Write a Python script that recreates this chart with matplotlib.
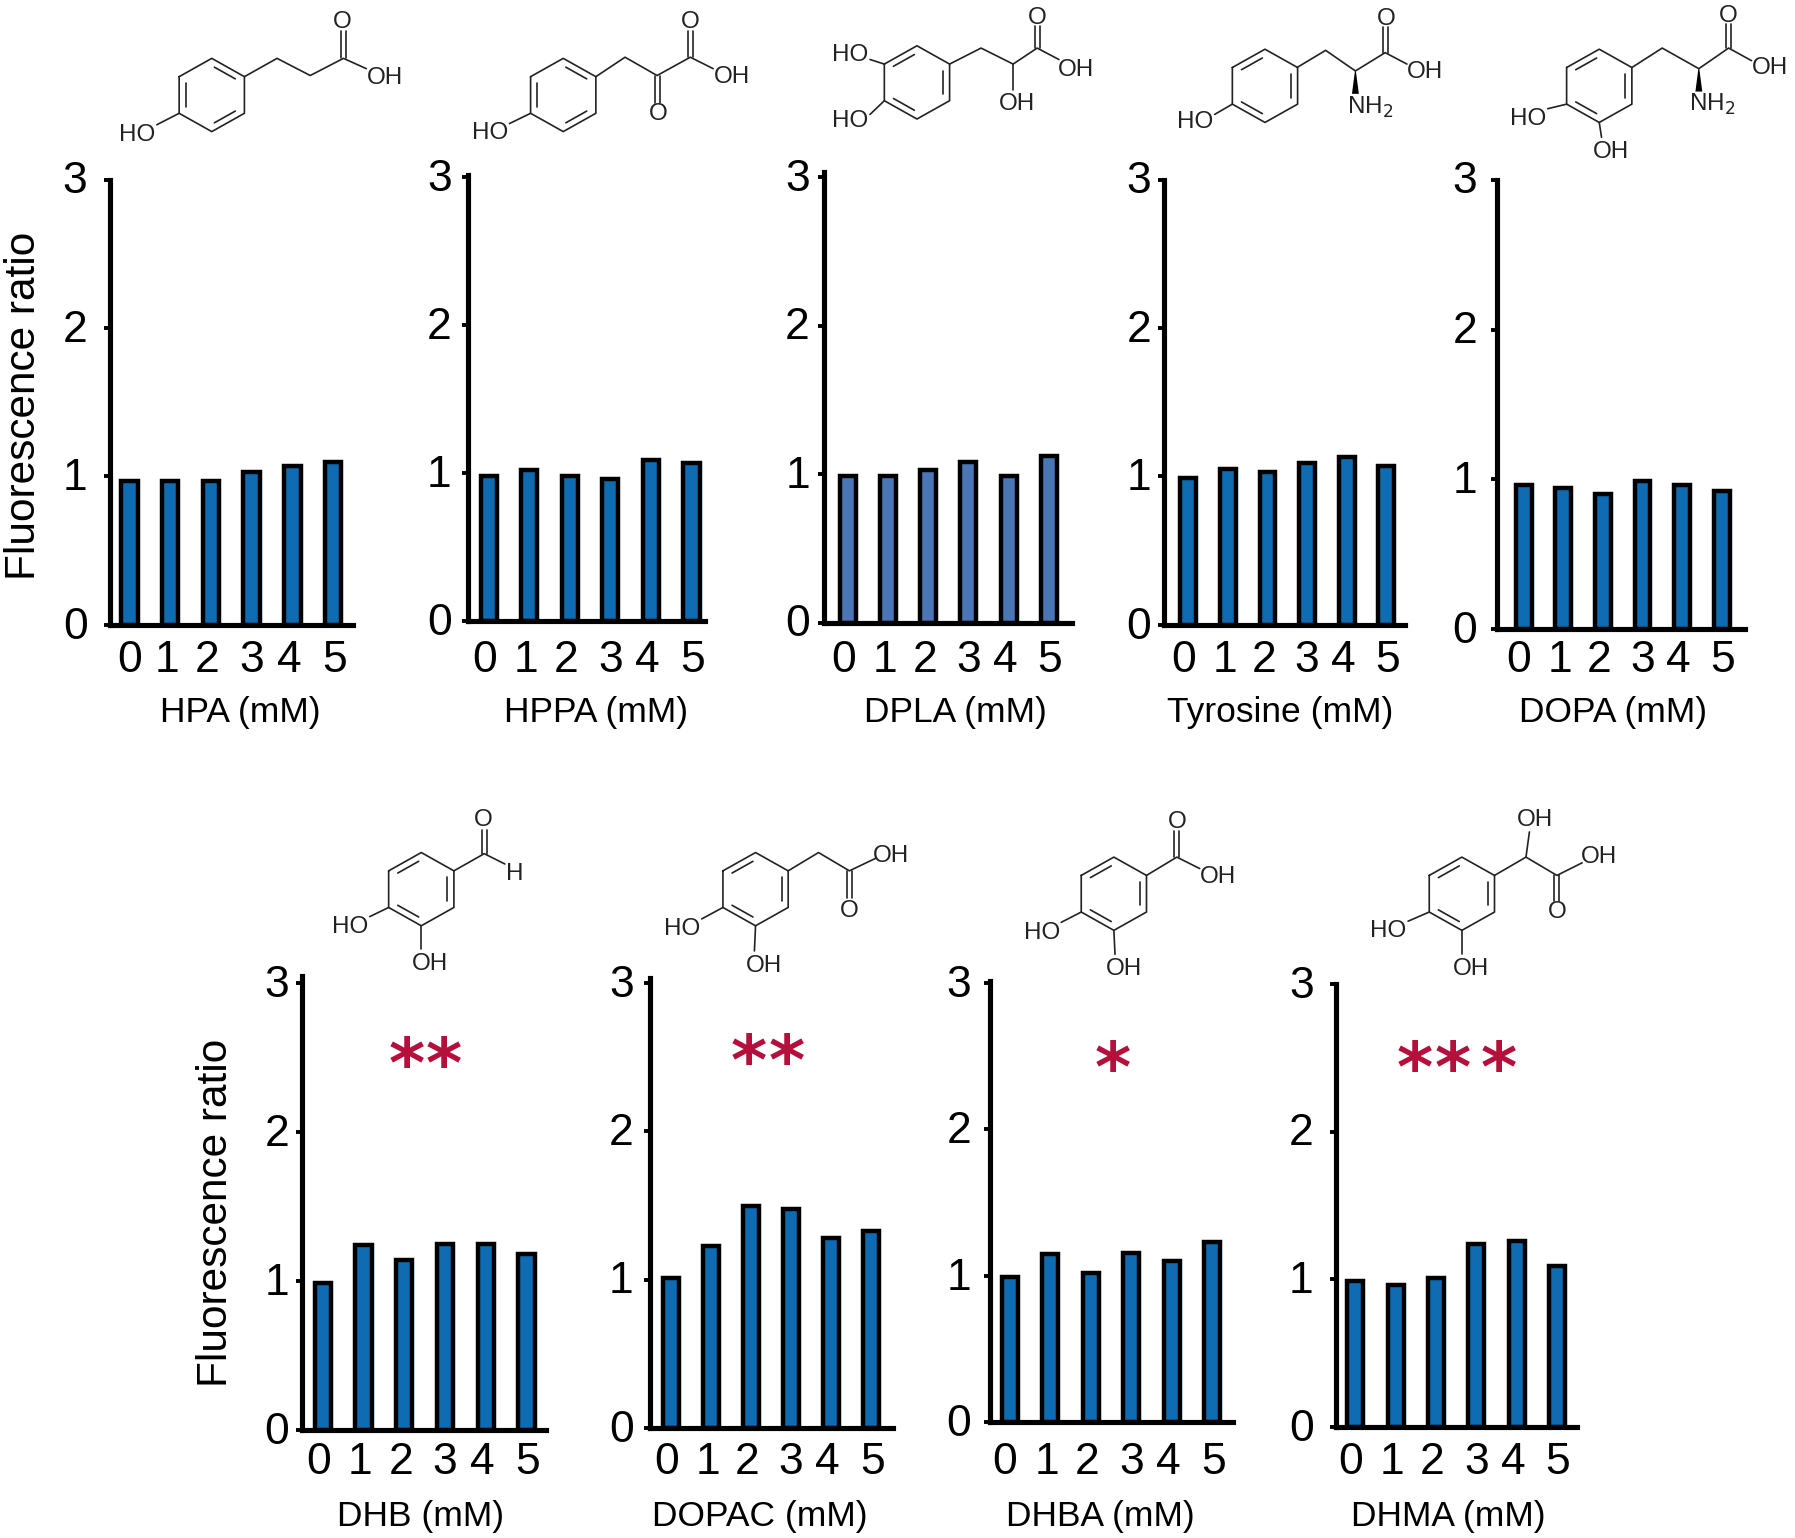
import numpy as np
import matplotlib
matplotlib.use("Agg")
import matplotlib.pyplot as plt
from matplotlib.transforms import ScaledTranslation

plt.rcParams['font.family'] = ['Liberation Sans', 'DejaVu Sans']

# values
doses = [0, 1, 2, 3, 4, 5]
hpa = [0.97, 0.97, 0.97, 1.03, 1.07, 1.10]
hppa = [0.98, 1.02, 0.98, 0.96, 1.09, 1.07]
dpla = [0.99, 0.99, 1.03, 1.08, 0.99, 1.12]
tyrosine = [0.99, 1.05, 1.03, 1.09, 1.13, 1.07]
dopa = [0.96, 0.94, 0.90, 0.99, 0.96, 0.92]
dhb = [0.99, 1.24, 1.14, 1.25, 1.25, 1.18]
dopac = [1.01, 1.23, 1.50, 1.48, 1.28, 1.33]
dhba = [0.99, 1.15, 1.02, 1.16, 1.10, 1.23]
dhma = [0.99, 0.96, 1.01, 1.24, 1.26, 1.09]

S = 1795 / 1568  # layout numbers below are in the 1568 wide picture
W, H = 1568, 1344
BLUE = '#0f6cb3'
RED = '#b5103c'

# name, values, left, tick 3, spine top, bottom, right, first bar, last bar, label gap, label y, xlabel x, colour
panels = [
    ('HPA (mM)', hpa, 96, 157, 157, 546, 308, 113, 291, 30, 573, 210, BLUE),
    ('HPPA (mM)', hppa, 409, 155, 153, 543, 616, 427, 604, 25, 573, 521, BLUE),
    ('DPLA (mM)', dpla, 720, 155, 150, 544, 936, 741, 916, 23, 573, 835, '#4a76b8'),
    ('Tyrosine (mM)', tyrosine, 1017, 157, 157, 546, 1227, 1038, 1211, 22, 573, 1118, BLUE),
    ('DOPA (mM)', dopa, 1308, 157, 157, 550, 1524, 1331, 1504, 28, 573, 1409, BLUE),
    ('DHB (mM)', dhb, 264, 859, 853, 1250, 477, 282, 460, 22, 1274, 367, BLUE),
    ('DOPAC (mM)', dopac, 568, 859, 855, 1248, 780, 586, 761, 25, 1274, 664, BLUE),
    ('DHBA (mM)', dhba, 865, 859, 857, 1243, 1077, 882, 1059, 27, 1274, 961, BLUE),
    ('DHMA (mM)', dhma, 1167, 860, 860, 1247, 1378, 1184, 1360, 30, 1274, 1265, BLUE),
]
label_shift = [-4, -3, -3, 0, -3, 1]

fig = plt.figure(figsize=(17.95, 15.38), dpi=100)

for name, vals, left, top, spine_top, bottom, right, b0, b5, gap, ly, lx, col in panels:
    ax = fig.add_axes([left / W, 1 - bottom / H, (right - left) / W, (bottom - top) / H])
    step = (b5 - b0) / 5
    ax.bar(doses, vals, width=0.40, color=col, edgecolor='black', linewidth=3.2)
    ax.set_xlim(-(b0 - left) / step, 5 + (right - b5) / step)
    ax.set_ylim(0, 3)
    ax.set_yticks([0, 1, 2, 3])
    ax.set_xticks(doses)
    ax.spines['top'].set_visible(False)
    ax.spines['right'].set_visible(False)
    ax.spines['left'].set_linewidth(3.7)
    ax.spines['bottom'].set_linewidth(3.7)
    ax.spines['left'].set_bounds(0, 3 * (bottom - spine_top) / (bottom - top))
    ax.tick_params(axis='y', length=4, width=2.8, labelsize=32, pad=(gap - 19) * S * 0.72 + 3)
    ax.tick_params(axis='x', length=0, labelsize=32, pad=(ly - 13.5 - bottom) * S * 0.72)
    for i, (lab, dx) in enumerate(zip(ax.get_xticklabels(), label_shift)):
        if name.startswith('HPA') and i == 0:
            dx = 0
        lab.set_transform(lab.get_transform() + ScaledTranslation(dx * S / 100, 0, fig.dpi_scale_trans))
    for lab in ax.get_yticklabels():
        lab.set_transform(lab.get_transform() + ScaledTranslation(0, 2 * S / 100, fig.dpi_scale_trans))
    ax.patch.set_alpha(0)
    fig.text(lx / W, 1 - 623 / H if ly < 1000 else 1 - 1325 / H, name, fontsize=25.5, ha='center', va='center')

fig.text(21 / W, 1 - 355 / H, 'Fluorescence ratio', fontsize=30.5, rotation=90, ha='center', va='center')
fig.text(189 / W, 1 - 1060 / H, 'Fluorescence ratio', fontsize=30.5, rotation=90, ha='center', va='center')

# overlay in picture coordinates for the structures and the stars
top_ax = fig.add_axes([0, 0, 1, 1])
top_ax.set_xlim(0, W)
top_ax.set_ylim(H, 0)
top_ax.axis('off')
top_ax.patch.set_alpha(0)


def bond(pts, lw=1.2):
    xs, ys = zip(*pts)
    top_ax.plot(xs, ys, color='#222222', lw=lw, solid_capstyle='round')


def dbl(p, q):
    # double bond drawn as two parallel lines
    p, q = np.array(p, float), np.array(q, float)
    n = np.array([q[1] - p[1], p[0] - q[0]])
    n = n / np.hypot(*n) * 2.2
    bond([p + n, q + n])
    bond([p - n, q - n])


def label(x, y, s):
    top_ax.text(x, y + 1, s, fontsize=17.5, ha='center', va='center', color='#222222')


def ring(cx, cy, kind):
    hw, r = 28.5, 32
    v = [(cx - hw, cy - r / 2), (cx, cy - r), (cx + hw, cy - r / 2),
         (cx + hw, cy + r / 2), (cx, cy + r), (cx - hw, cy + r / 2)]
    bond(v + [v[0]])
    edges = [(0, 1), (2, 3), (4, 5)]
    if kind == 'b':
        edges = [(5, 0), (1, 2), (3, 4)]
    for i, j in edges:
        a = np.array(v[i]) + (np.array([cx, cy]) - np.array(v[i])) * 0.2
        b = np.array(v[j]) + (np.array([cx, cy]) - np.array(v[j])) * 0.2
        bond([a + (b - a) * 0.1, b - (b - a) * 0.1])


def wedge(x, y0, y1):
    top_ax.fill([x - 0.4, x + 0.4, x + 3, x - 3], [y0, y0, y1, y1], color='black', lw=0)


def catechol(cx, cy, hox, hoy, ohx, ohy):
    ring(cx, cy, 'c')
    bond([(cx - 28.5, cy + 16), (hox + 17, hoy - 8)])
    bond([(cx, cy + 32), (ohx - 8, ohy - 12)])
    label(hox, hoy, 'HO')
    label(ohx, ohy, 'OH')


# HPA
ring(185, 83, 'b')
bond([(137, 109), (156.5, 99)])
label(120, 117, 'HO')
bond([(213.5, 67), (242, 51), (271, 66), (300, 51), (320, 60)])
dbl((300, 51), (300, 27))
label(299, 18, 'O')
label(336, 67, 'OH')

# HPPA
ring(492, 83, 'b')
bond([(445, 108), (463.5, 99)])
label(428, 115, 'HO')
bond([(520.5, 67), (546, 50), (574, 66), (603, 50), (623, 60)])
dbl((574, 66), (574, 90))
label(575, 99, 'O')
dbl((603, 50), (603, 27))
label(603, 18, 'O')
label(639, 66, 'OH')

# DPLA
ring(801, 72, 'c')
bond([(760, 52), (772.5, 56)])
bond([(760, 100), (772.5, 88)])
label(743, 47, 'HO')
label(743, 105, 'HO')
bond([(829.5, 56), (857, 42), (885, 56), (906, 42), (925, 52)])
bond([(885, 56), (885, 79)])
label(888, 90, 'OH')
dbl((906, 42), (906, 23))
label(906, 15, 'O')
label(940, 60, 'OH')

# Tyrosine
ring(1105, 75, 'c')
bond([(1061, 100), (1076.5, 91)])
label(1044, 106, 'HO')
bond([(1133, 59), (1158, 44), (1184, 62), (1210, 46), (1229, 56)])
wedge(1184, 62, 82)
label(1197, 93, 'NH$_2$')
dbl((1210, 46), (1210, 24))
label(1211, 16, 'O')
label(1245, 62, 'OH')

# DOPA
catechol(1397, 75, 1335, 103, 1407, 132)
bond([(1425.5, 59), (1452, 42), (1484, 60), (1510, 42), (1530, 53)])
wedge(1484, 60, 80)
label(1496, 90, 'NH$_2$')
dbl((1510, 42), (1510, 21))
label(1510, 13, 'O')
label(1546, 58, 'OH')

# DHB
catechol(368, 777, 306, 809, 376, 841)
bond([(396.5, 761), (423, 746), (441, 755)])
dbl((423, 746), (423, 725))
label(422, 716, 'O')
label(450, 763, 'H')

# DOPAC
catechol(660, 777, 596, 811, 667, 843)
bond([(688.5, 761), (715, 745), (742, 761), (765, 750)])
dbl((742, 761), (742, 785))
label(742, 795, 'O')
label(778, 747, 'OH')

# DHBA
catechol(973, 781, 910, 814, 982, 846)
bond([(1001.5, 765), (1028, 749), (1048, 759)])
dbl((1028, 749), (1028, 726))
label(1028, 717, 'O')
label(1064, 765, 'OH')

# DHMA
catechol(1277, 781, 1213, 813, 1285, 846)
bond([(1305.5, 765), (1333, 749), (1360, 765), (1382, 754)])
bond([(1333, 749), (1336, 727)])
label(1341, 716, 'OH')
dbl((1360, 765), (1360, 787))
label(1360, 796, 'O')
label(1397, 748, 'OH')

# significance stars
star_x = [355, 388, 654, 687, 972, 1236, 1269, 1309]
star_y = [920, 920, 917, 917, 923, 923, 923, 923]
for x, y in zip(star_x, star_y):
    top_ax.text(x, y + 13, '*', family='DejaVu Sans', fontsize=50, fontweight='bold',
                color=RED, ha='center', va='center')

fig.savefig('out.png', dpi=100)
